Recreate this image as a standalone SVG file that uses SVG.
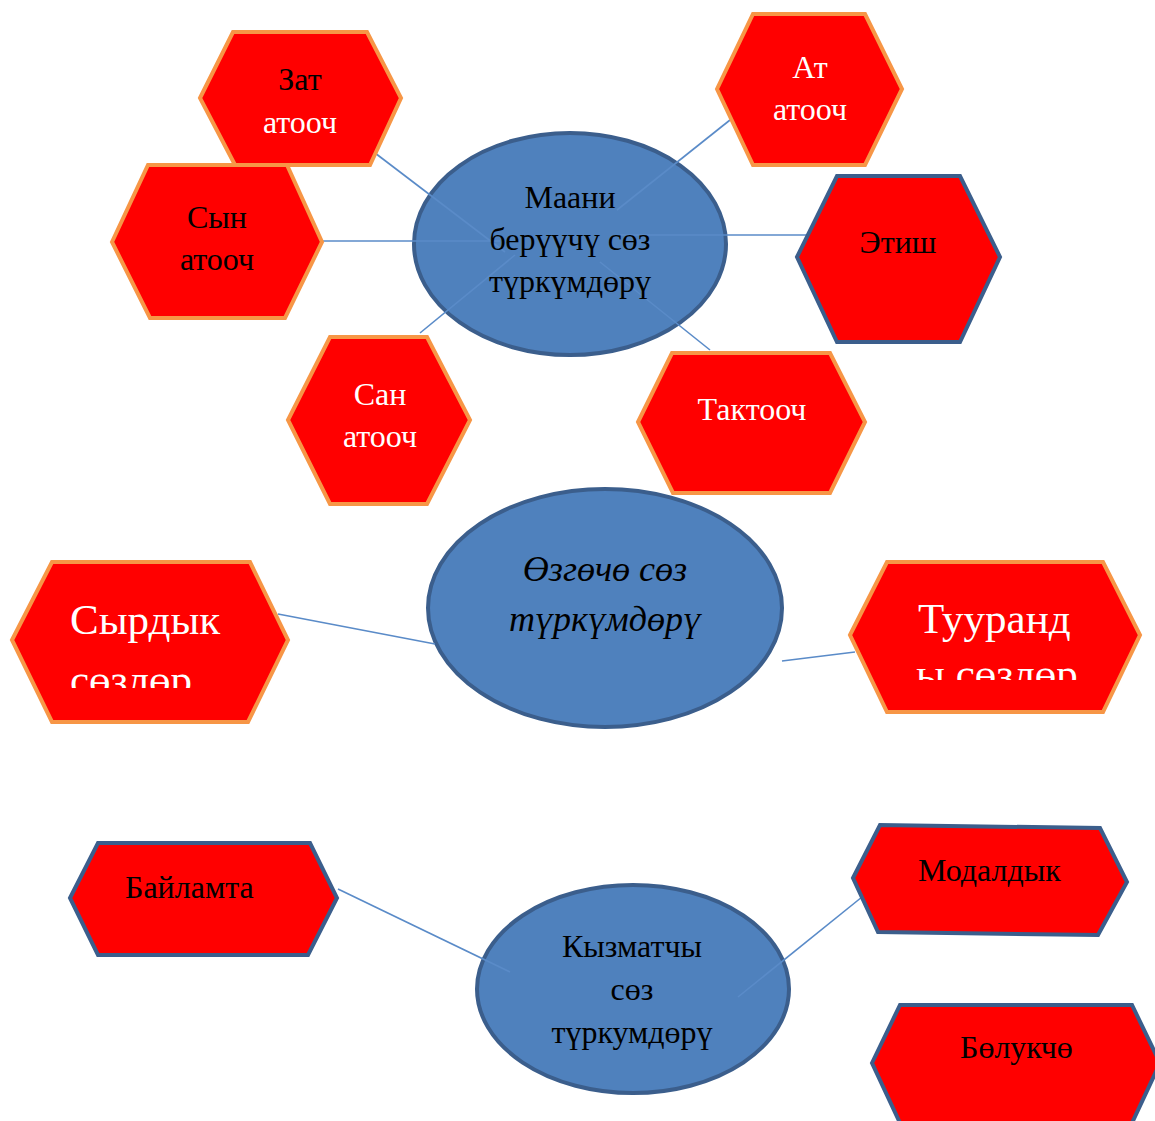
<svg xmlns="http://www.w3.org/2000/svg" width="1155" height="1121" viewBox="0 0 1155 1121">
<defs>
<style>
.hexo{fill:#FF0000;stroke:#F79646;stroke-width:4;stroke-linejoin:miter}
.hexb{fill:#FF0000;stroke:#3B5E8C;stroke-width:4;stroke-linejoin:miter}
.ell{fill:#4F81BD;stroke:#3B5E8C;stroke-width:4}
.t{font-family:"Liberation Serif","Times New Roman",serif;font-size:32px;text-anchor:middle}
.tl{font-family:"Liberation Serif","Times New Roman",serif;font-size:32px}
.big{font-family:"Liberation Serif","Times New Roman",serif;font-size:43px;fill:#FFFFFF}
.it{font-family:"Liberation Serif","Times New Roman",serif;font-size:36px;font-style:italic;text-anchor:middle}
.k{fill:#000000}
.w{fill:#FFFFFF}
.con{stroke:#5A8BC8;stroke-width:1.6;fill:none}
</style>
<clipPath id="clipS"><rect x="12" y="560" width="280" height="128"/></clipPath>
<clipPath id="clipT"><rect x="850" y="560" width="290" height="120"/></clipPath>
</defs>
<rect width="1155" height="1121" fill="#FFFFFF"/>

<g id="center-maani">
<ellipse class="ell" cx="570" cy="244" rx="156" ry="111"/>
</g>
<g id="center-ozgocho">
<ellipse class="ell" cx="605" cy="608" rx="177" ry="119"/>
</g>
<g id="center-kyzmatchy">
<ellipse class="ell" cx="633" cy="989" rx="156" ry="104"/>
</g>

<g id="connectors">
<line class="con" x1="375" y1="153" x2="505" y2="252"/>
<line class="con" x1="322" y1="241" x2="500" y2="241"/>
<line class="con" x1="420" y1="333" x2="515" y2="255"/>
<line class="con" x1="730" y1="120" x2="617" y2="210"/>
<line class="con" x1="808" y1="235" x2="620" y2="235"/>
<line class="con" x1="710" y1="350" x2="600" y2="262"/>
<line class="con" x1="278" y1="614" x2="435" y2="644"/>
<line class="con" x1="782" y1="661" x2="855" y2="652"/>
<line class="con" x1="338" y1="889" x2="510" y2="972"/>
<line class="con" x1="862" y1="897" x2="738" y2="997"/>
</g>

<g id="center-maani-text">
<text class="t k" x="570" y="208">Маани</text>
<text class="t k" x="570" y="250">берүүчү сөз</text>
<text class="t k" x="570" y="292">түркүмдөрү</text>
</g>
<g id="center-ozgocho-text">
<text class="it k" x="605" y="581">Өзгөчө сөз</text>
<text class="it k" x="605" y="631">түркүмдөрү</text>
</g>
<g id="center-kyzmatchy-text">
<text class="t k" x="632" y="957">Кызматчы</text>
<text class="t k" x="632" y="1000">сөз</text>
<text class="t k" x="632" y="1043">түркумдөрү</text>
</g>

<g id="zat-atooch">
<polygon class="hexo" points="200,98 233,32 367,32 401,98 370,165 235,165"/>
<text class="t k" x="300" y="90">Зат</text>
<text class="t w" x="300" y="133">атооч</text>
</g>
<g id="syn-atooch">
<polygon class="hexo" points="112,242 148,165 287,165 322,242 285,318 150,318"/>
<text class="t k" x="217" y="228">Сын</text>
<text class="t k" x="217" y="270">атооч</text>
</g>
<g id="at-atooch">
<polygon class="hexo" points="717,89 753,14 865,14 902,89 865,165 753,165"/>
<text class="t w" x="810" y="78">Ат</text>
<text class="t w" x="810" y="120">атооч</text>
</g>
<g id="etish">
<polygon class="hexb" points="797,257 837,176 960,176 1000,257 960,342 837,342"/>
<text class="t k" x="898" y="253">Этиш</text>
</g>
<g id="san-atooch">
<polygon class="hexo" points="288,420 330,337 427,337 470,420 427,504 330,504"/>
<text class="t w" x="380" y="405">Сан</text>
<text class="t w" x="380" y="447">атооч</text>
</g>
<g id="taktooch">
<polygon class="hexo" points="638,422 672,353 830,353 865,422 830,493 673,493"/>
<text class="t w" x="752" y="420">Тактооч</text>
</g>

<g id="syrdyk-sozdor">
<polygon class="hexo" points="12,640 52,562 250,562 288,640 248,722 52,722"/>
<g clip-path="url(#clipS)">
<text class="big" x="70" y="634">Сырдык</text>
<text class="big" x="70" y="694">сөзлөр</text>
</g>
</g>
<g id="tuurandy-sozdor">
<polygon class="hexo" points="850,635 887,562 1103,562 1140,635 1103,712 887,712"/>
<g clip-path="url(#clipT)">
<text class="big" x="918" y="633">Тууранд</text>
<text class="big" x="916" y="688">ы сөзлөр</text>
</g>
</g>

<g id="bailamta">
<polygon class="hexb" points="70,898 98,843 310,843 337,898 308,955 98,955"/>
<text class="tl k" x="125" y="898">Байламта</text>
</g>
<g id="modaldyk">
<polygon class="hexb" points="853,878 880,825 1100,828 1127,882 1098,935 878,932"/>
<text class="tl k" x="918" y="881">Модалдык</text>
</g>
<g id="bolukcho">
<polygon class="hexb" points="872,1063 900,1005 1132,1005 1160,1063 1132,1123 900,1123"/>
<text class="tl k" x="960" y="1058">Бөлукчө</text>
</g>
</svg>
